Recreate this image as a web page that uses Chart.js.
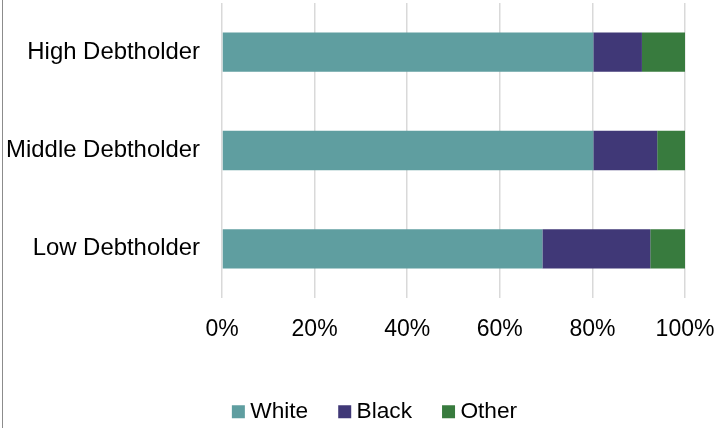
<!DOCTYPE html>
<html>
<head>
<meta charset="utf-8">
<script src="https://cdn.jsdelivr.net/npm/chart.js@4/dist/chart.umd.min.js"></script>
<style>
    html, body { margin: 0; padding: 0; background: #fff; overflow: hidden; }
    #wrap { position: relative; width: 717px; height: 433px; }
    #edge { position: absolute; left: 2px; top: 0; width: 1px; height: 428px; background: #8c8c8c; }
    canvas { display: block; }
</style>
</head>
<body>
<div id="wrap">
    <div id="edge"></div>
    <canvas id="chart" width="717" height="433"></canvas>
</div>
<script>
// debtholder groups, top to bottom
const groups = ['High Debtholder', 'Middle Debtholder', 'Low Debtholder'];

// share of each group (percent)
const white = [80.2, 80.2, 69.2];
const black = [10.5, 13.8, 23.3];
const other = [9.3, 6.0, 7.5];

const tickValues = [0, 20, 40, 60, 80, 100];

const family = '"Liberation Sans", Arial, sans-serif';

// nudge the legend row to the right so it sits under the plot
const legendShift = {
    id: 'legendShift',
    afterLayout(chart) {
        if (chart.legend) chart.legend.left += 38;
    }
};

const ctx = document.getElementById('chart').getContext('2d');

new Chart(ctx, {
    type: 'bar',
    data: {
        labels: groups,
        datasets: [
            { label: 'White', data: white, backgroundColor: '#5f9ea0' },
            { label: 'Black', data: black, backgroundColor: '#403877' },
            { label: 'Other', data: other, backgroundColor: '#387b3e' }
        ]
    },
    options: {
        indexAxis: 'y',
        responsive: false,
        animation: false,
        devicePixelRatio: 1,
        layout: { padding: { top: 3, right: 0, bottom: 0, left: 0 } },
        datasets: {
            bar: { barPercentage: 0.4, categoryPercentage: 1 }
        },
        scales: {
            x: {
                stacked: true,
                min: 0,
                max: 100,
                afterBuildTicks: (scale) => {
                    scale.ticks = tickValues.map(v => ({ value: v }));
                },
                afterFit: (scale) => {
                    scale.height = 66.3;
                    scale.paddingLeft = 0;
                    scale.paddingRight = 32;
                },
                grid: { color: '#d9d9d9', lineWidth: 1.5, drawTicks: false },
                border: { display: false },
                ticks: {
                    color: '#000',
                    font: { family: family, size: 23 },
                    padding: 17.5,
                    maxRotation: 0,
                    callback: (v) => v + '%'
                }
            },
            y: {
                stacked: true,
                afterFit: (scale) => {
                    scale.width = 222;
                    scale.paddingTop = 0;
                    scale.paddingBottom = 0;
                },
                grid: { display: false, drawTicks: false },
                border: { display: false },
                ticks: { color: '#000', font: { family: family, size: 23.9 }, padding: 22 }
            }
        },
        plugins: {
            legend: {
                position: 'bottom',
                labels: {
                    color: '#000',
                    font: { family: family, size: 22.7 },
                    usePointStyle: true,
                    pointStyle: 'rect',
                    boxWidth: 1,
                    boxHeight: 13,
                    padding: 36
                }
            },
            tooltip: { enabled: false }
        }
    },
    plugins: [legendShift]
});
</script>
</body>
</html>
